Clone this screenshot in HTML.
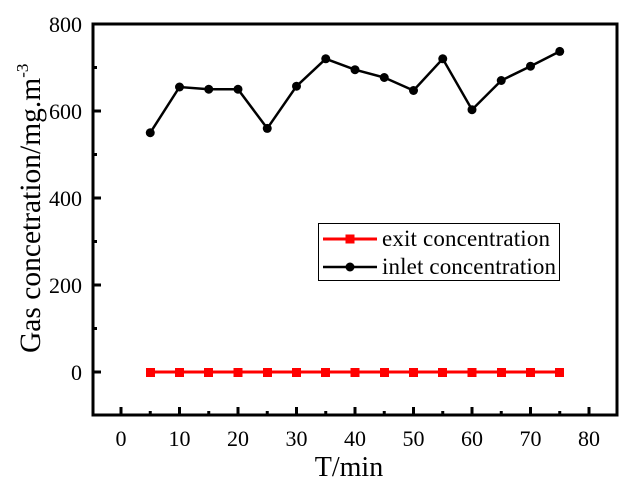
<!DOCTYPE html>
<html><head><style>body{margin:0;background:#fff}</style></head><body>
<svg width="629" height="480" xmlns="http://www.w3.org/2000/svg" font-family="Liberation Serif, serif">
<rect width="629" height="480" fill="#fff"/>
<g stroke="#000" stroke-width="3">
<rect x="93" y="24" width="524" height="391" fill="none"/>
<path d="M93 24h8M93 111h8M93 198h8M93 285h8M93 372h8M93 67.5h4M93 154.5h4M93 241.5h4M93 328.5h4"/>
<path d="M121 415v-8M179.5 415v-8M238 415v-8M296.5 415v-8M355 415v-8M413.5 415v-8M472 415v-8M530.5 415v-8M589 415v-8"/>
<path d="M150.25 415v-4M208.75 415v-4M267.25 415v-4M325.75 415v-4M384.25 415v-4M442.75 415v-4M501.25 415v-4M559.75 415v-4"/>
</g>
<g font-size="22" text-anchor="end">
<text x="82" y="32">800</text><text x="82" y="119">600</text><text x="82" y="206">400</text><text x="82" y="293">200</text><text x="82" y="380">0</text>
</g>
<g font-size="22" text-anchor="middle">
<text x="121" y="446">0</text><text x="179.5" y="446">10</text><text x="238" y="446">20</text><text x="296.5" y="446">30</text><text x="355" y="446">40</text><text x="413.5" y="446">50</text><text x="472" y="446">60</text><text x="530.5" y="446">70</text><text x="589" y="446">80</text>
</g>
<text x="349" y="476" font-size="28" text-anchor="middle">T/min</text>
<text transform="translate(40,353) rotate(-90)" font-size="29.5">Gas concetration/mg.m<tspan font-size="17" dy="-12">-3</tspan></text>
<polyline fill="none" stroke="#000" stroke-width="2.5" points="150.25,132.75 179.5,87 208.75,89.25 238,89.25 267.25,128.4 296.5,86.2 325.75,58.8 355,69.7 384.25,77.5 413.5,90.5 442.75,58.8 472,109.7 501.25,80.5 530.5,66.2 559.75,51.4"/>
<g fill="#000">
<circle cx="150.25" cy="132.75" r="4.5"/><circle cx="179.5" cy="87" r="4.5"/><circle cx="208.75" cy="89.25" r="4.5"/><circle cx="238" cy="89.25" r="4.5"/><circle cx="267.25" cy="128.4" r="4.5"/><circle cx="296.5" cy="86.2" r="4.5"/><circle cx="325.75" cy="58.8" r="4.5"/><circle cx="355" cy="69.7" r="4.5"/><circle cx="384.25" cy="77.5" r="4.5"/><circle cx="413.5" cy="90.5" r="4.5"/><circle cx="442.75" cy="58.8" r="4.5"/><circle cx="472" cy="109.7" r="4.5"/><circle cx="501.25" cy="80.5" r="4.5"/><circle cx="530.5" cy="66.2" r="4.5"/><circle cx="559.75" cy="51.4" r="4.5"/>
</g>
<line x1="150.25" y1="372" x2="559.75" y2="372" stroke="#f00" stroke-width="3"/>
<g fill="#f00">
<rect x="146" y="368" width="9" height="9"/><rect x="175" y="368" width="9" height="9"/><rect x="204" y="368" width="9" height="9"/><rect x="233.5" y="368" width="9" height="9"/><rect x="263" y="368" width="9" height="9"/><rect x="292" y="368" width="9" height="9"/><rect x="321" y="368" width="9" height="9"/><rect x="350.5" y="368" width="9" height="9"/><rect x="380" y="368" width="9" height="9"/><rect x="409" y="368" width="9" height="9"/><rect x="438" y="368" width="9" height="9"/><rect x="467.5" y="368" width="9" height="9"/><rect x="497" y="368" width="9" height="9"/><rect x="526" y="368" width="9" height="9"/><rect x="555" y="368" width="9" height="9"/>
</g>
<rect x="318.5" y="223.5" width="241" height="57" fill="#fff" stroke="#000" stroke-width="1"/>
<line x1="323" y1="239" x2="377" y2="239" stroke="#f00" stroke-width="3"/>
<rect x="345.5" y="234.5" width="9" height="9" fill="#f00"/>
<line x1="323" y1="267" x2="377" y2="267" stroke="#000" stroke-width="2.5"/>
<circle cx="350" cy="267" r="4.5" fill="#000"/>
<text x="382" y="246" font-size="23" textLength="168">exit concentration</text>
<text x="382" y="274" font-size="23" textLength="174">inlet concentration</text>
</svg>
</body></html>
